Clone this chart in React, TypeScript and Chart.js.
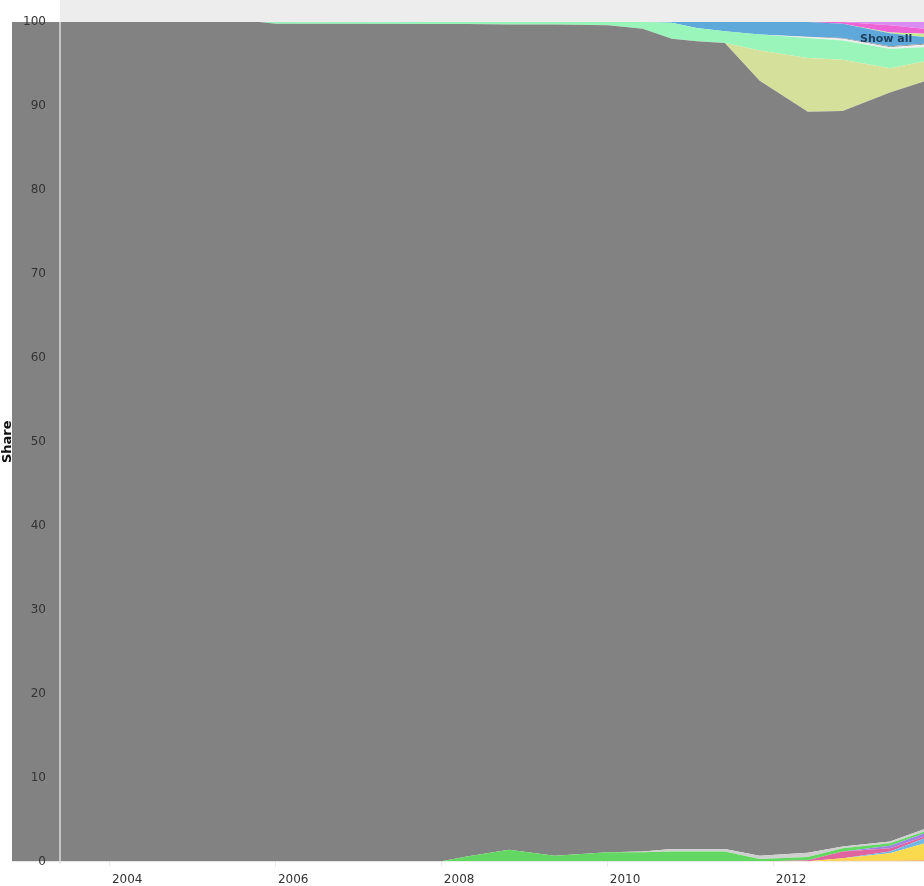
import React, { useEffect, useRef } from "react";
import { Chart, registerables } from "chart.js";

Chart.register(...registerables);

const YEARS = [2002.82, 2005.8, 2006.0, 2007.98, 2008.3, 2008.81, 2009.36, 2010.0, 2010.42, 2010.77, 2011.07, 2011.41, 2011.83, 2012.41, 2012.83, 2013.4, 2013.81];
const X_TICKS = [2004, 2006, 2008, 2010, 2012];

const ORANGE = [0, 0, 0, 0, 0, 0, 0, 0, 0, 0, 0, 0, 0, 0, 0.1, 0.1, 0.15];
const YELLOW = [0, 0, 0, 0, 0, 0, 0, 0, 0, 0, 0, 0, 0, 0.05, 0.3, 0.9, 2.0];
const LIGHT_BLUE = [0, 0, 0, 0, 0, 0, 0, 0, 0, 0, 0, 0, 0, 0, 0, 0.2, 0.6];
const ROSE = [0, 0, 0, 0, 0, 0, 0, 0, 0, 0, 0, 0, 0, 0.1, 0.8, 0.4, 0.2];
const PURPLE = [0, 0, 0, 0, 0, 0, 0, 0, 0, 0, 0, 0, 0, 0, 0, 0.3, 0.4];
const GREEN = [0, 0, 0, 0, 0.6, 1.4, 0.7, 1.1, 1.1, 1.2, 1.2, 1.2, 0.3, 0.4, 0.4, 0.3, 0.2];
const SILVER_LOW = [0, 0, 0, 0, 0, 0, 0, 0, 0.1, 0.3, 0.3, 0.3, 0.4, 0.5, 0.2, 0.2, 0.3];
const GRAY = [100, 100, 99.8, 99.75, 99.15, 98.3, 99.0, 98.5, 98.0, 96.5, 96.2, 96.0, 92.3, 88.25, 87.6, 89.2, 89.05];
const KHAKI = [0, 0, 0, 0, 0, 0, 0, 0, 0, 0, 0, 0, 3.6, 6.4, 6.1, 2.9, 2.4];
const MINT = [0, 0, 0.2, 0.25, 0.25, 0.3, 0.3, 0.4, 0.8, 1.9, 1.6, 1.4, 1.9, 2.4, 2.3, 2.3, 1.7];
const SILVER_TOP = [0, 0, 0, 0, 0, 0, 0, 0, 0, 0, 0, 0, 0, 0.1, 0.2, 0.2, 0.3];
const DARK_EDGE = [0, 0, 0, 0, 0, 0, 0, 0, 0, 0, 0, 0, 0, 0.05, 0.1, 0.1, 0.1];
const BLUE = [0, 0, 0, 0, 0, 0, 0, 0, 0, 0.1, 0.7, 1.1, 1.5, 1.75, 1.7, 1.55, 0.8];
const LIME = [0, 0, 0, 0, 0, 0, 0, 0, 0, 0, 0, 0, 0, 0, 0, 0.1, 0.4];
const MAGENTA = [0, 0, 0, 0, 0, 0, 0, 0, 0, 0, 0, 0, 0, 0, 0.2, 0.85, 0.6];
const LAVENDER = [0, 0, 0, 0, 0, 0, 0, 0, 0, 0, 0, 0, 0, 0, 0, 0.4, 0.8];

const SERIES: { name: string; values: number[]; color: string }[] = [
  { name: "orange", values: ORANGE, color: "#f4a15a" },
  { name: "yellow", values: YELLOW, color: "#f9d94e" },
  { name: "lightblue", values: LIGHT_BLUE, color: "#72b8e6" },
  { name: "rose", values: ROSE, color: "#e0649f" },
  { name: "purple", values: PURPLE, color: "#9c84e6" },
  { name: "green", values: GREEN, color: "#62d862" },
  { name: "silverLow", values: SILVER_LOW, color: "#cfcfcf" },
  { name: "gray", values: GRAY, color: "#828282" },
  { name: "khaki", values: KHAKI, color: "#d5e09a" },
  { name: "mint", values: MINT, color: "#9af5bb" },
  { name: "silverTop", values: SILVER_TOP, color: "#eeeeee" },
  { name: "darkEdge", values: DARK_EDGE, color: "#999999" },
  { name: "blue", values: BLUE, color: "#5fa8da" },
  { name: "lime", values: LIME, color: "#c8ef8e" },
  { name: "magenta", values: MAGENTA, color: "#ef64d4" },
  { name: "lavender", values: LAVENDER, color: "#d98cf2" },
];

const FONT = '"DejaVu Sans", sans-serif';

const decorPlugin = {
  id: "decor",
  beforeDraw(chart: any) {
    const { ctx, chartArea } = chart;
    ctx.save();
    ctx.fillStyle = "#ededed";
    ctx.fillRect(60, 0, chart.width - 60, chartArea.top);
    ctx.restore();
  },
  afterDraw(chart: any) {
    const { ctx, chartArea } = chart;
    const yScale = chart.scales.y;
    ctx.save();
    ctx.strokeStyle = "#dcdcdc";
    ctx.lineWidth = 1.5;
    ctx.beginPath();
    ctx.moveTo(60, chartArea.top);
    ctx.lineTo(60, chartArea.bottom + 2);
    ctx.stroke();

    // y tick labels, from the scale's own ticks
    ctx.fillStyle = "#333";
    ctx.font = "12px " + FONT;
    ctx.textAlign = "right";
    ctx.textBaseline = "middle";
    for (const t of yScale.ticks) {
      ctx.fillText(String(t.value), 46, yScale.getPixelForValue(t.value));
    }

    ctx.fillStyle = "#111";
    ctx.font = "bold 13px " + FONT;
    ctx.textAlign = "center";
    ctx.textBaseline = "middle";
    ctx.translate(8, (chartArea.top + chartArea.bottom) / 2);
    ctx.rotate(-Math.PI / 2);
    ctx.fillText("Share", 0, 0);
    ctx.restore();

    ctx.save();
    ctx.fillStyle = "#1f3d5c";
    ctx.font = "bold 11px " + FONT;
    ctx.textAlign = "left";
    ctx.textBaseline = "middle";
    ctx.fillText("Show all", 860, 39);
    ctx.restore();
  },
};

export default function App() {
  const canvasRef = useRef<HTMLCanvasElement | null>(null);

  useEffect(() => {
    document.body.style.margin = "0";
    const canvas = canvasRef.current;
    if (!canvas) return;
    const datasets = SERIES.map((s, k) => ({
      label: s.name,
      data: s.values.map((v, i) => ({ x: YEARS[i], y: v })),
      backgroundColor: s.color,
      borderColor: s.color,
      borderWidth: 0,
      pointRadius: 0,
      tension: 0,
      fill: k === 0 ? "origin" : "-1",
    }));

    const chart = new Chart(canvas, {
      type: "line",
      data: { datasets },
      plugins: [decorPlugin],
      options: {
        animation: false,
        responsive: true,
        maintainAspectRatio: false,
        layout: { padding: { top: 22, left: 12, right: 0, bottom: -7 } },
        plugins: {
          legend: { display: false },
          tooltip: { enabled: false },
        },
        scales: {
          x: {
            type: "linear",
            min: YEARS[0],
            max: YEARS[YEARS.length - 1],
            z: 1,
            afterBuildTicks: (axis: any) => {
              axis.ticks = X_TICKS.map((v) => ({ value: v }));
            },
            border: { display: false },
            grid: {
              color: "rgba(0,0,0,0.07)",
              drawTicks: true,
              tickLength: 5,
              tickColor: "rgba(0,0,0,0.08)",
            },
            ticks: {
              align: "start",
              labelOffset: 2,
              padding: 6,
              color: "#333",
              font: { family: FONT, size: 12 },
              maxRotation: 0,
              autoSkip: false,
              callback: (v: any) => String(v),
            },
          },
          y: {
            type: "linear",
            stacked: true,
            min: 0,
            max: 100,
            z: 1,
            border: { display: false },
            grid: {
              color: "rgba(0,0,0,0.05)",
              drawTicks: false,
            },
            ticks: {
              display: false,
              stepSize: 10,
              autoSkip: false,
            },
          },
        },
      },
    } as any);
    return () => chart.destroy();
  }, []);

  return (
    <div style={{ position: "relative", width: 924, height: 886, overflow: "hidden" }}>
      <canvas ref={canvasRef} />
    </div>
  );
}
